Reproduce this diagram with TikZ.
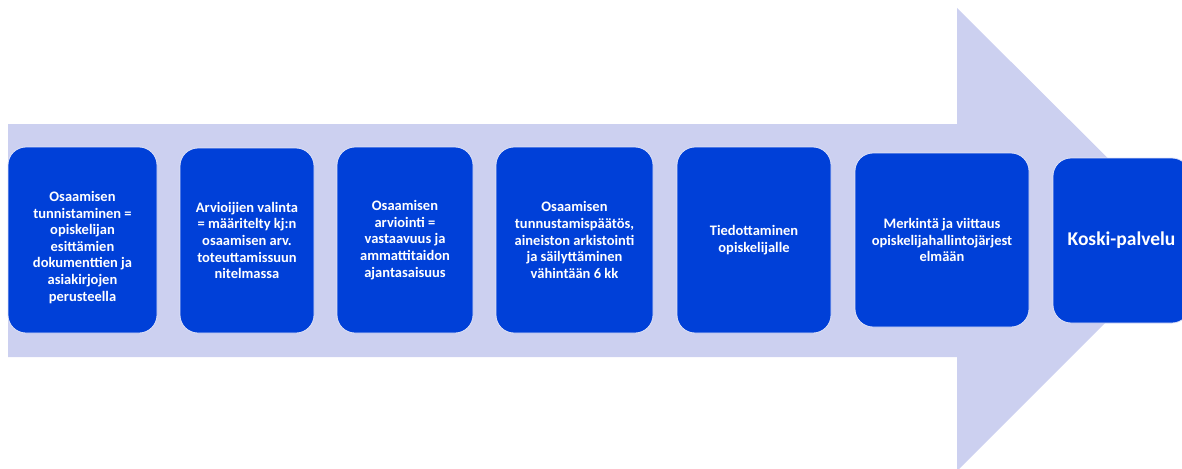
\documentclass[tikz,border=0pt]{standalone}
\usepackage{fontspec}
\setmainfont{Carlito}
\definecolor{arrowfill}{RGB}{204,208,240}
\definecolor{boxfill}{RGB}{0,64,216}
\definecolor{boxline}{RGB}{225,228,248}
\tikzset{
  stepbox/.style={rectangle, rounded corners=18pt, fill=boxfill, draw=boxline, line width=0.8pt,
    text=white, font=\bfseries\fontsize{14.5}{16.6}\selectfont, align=center, inner sep=0pt}
}
\begin{document}
\begin{tikzpicture}[x=1pt,y=-1pt]
\useasboundingbox (0,0) rectangle (1182,468);
\begin{scope}
\clip (0,0) rectangle (1182,468);
\fill[arrowfill] (8,124) -- (957,124) -- (957,8) -- (1189,239) -- (957,471) -- (957,357) -- (8,357) -- cycle;
\node[stepbox, minimum width=149pt, minimum height=186pt] (b1) at (82.5,240)
  {\rule{0pt}{25pt}Osaamisen\\tunnistaminen =\\opiskelijan\\esittämien\\dokumenttien ja\\asiakirjojen\\perusteella};
\node[stepbox, minimum width=134pt, minimum height=185pt] (b2) at (247,240.5)
  {Arvioijien valinta\\= määritelty kj:n\\osaamisen arv.\\toteuttamissuun\\nitelmassa};
\node[stepbox, minimum width=136pt, minimum height=186pt] (b3) at (405,240)
  {Osaamisen\\arviointi =\\vastaavuus ja\\ammattitaidon\\ajantasaisuus};
\node[stepbox, minimum width=157pt, minimum height=186pt] (b4) at (574.5,240)
  {Osaamisen\\tunnustamispäätös,\\aineiston arkistointi\\ja säilyttäminen\\vähintään 6 kk};
\node[stepbox, minimum width=154pt, minimum height=186pt] (b5) at (754,240)
  {Tiedottaminen\\opiskelijalle};
\node[stepbox, minimum width=174pt, minimum height=174pt] (b6) at (942,240)
  {Merkintä ja viittaus\\opiskelijahallintojärjest\\elmään};
\node[stepbox, minimum width=137pt, minimum height=165pt, font=\bfseries\fontsize{19.5}{22}\selectfont] (b7) at (1121.5,240.5)
  {Koski-palvelu};
\end{scope}
\end{tikzpicture}
\end{document}
